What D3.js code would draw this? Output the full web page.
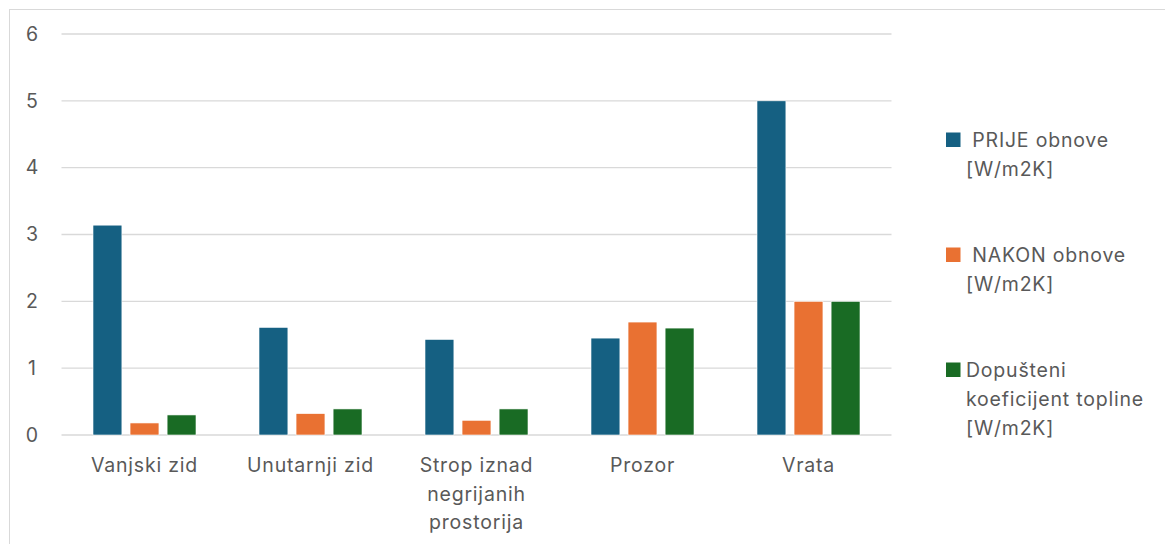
<!DOCTYPE html>
<html>
<head>
<meta charset="utf-8">
<script src="https://cdn.jsdelivr.net/npm/d3@7"></script>
<style>
  html, body { margin: 0; padding: 0; background: #fff; }
  svg { display: block; font-family: Inter, "Open Sans", sans-serif; }
  .lbl { letter-spacing: 0.8px; }
</style>
</head>
<body>
<svg id="chart" width="1165" height="544"></svg>
<script>
// Building elements (multi-line labels split on "\n")
const categories = ["Vanjski zid", "Unutarnji zid", "Strop iznad\nnegrijanih\nprostorija", "Prozor", "Vrata"];

// U-values per series [W/m2K]
const prijeObnove  = [3.14, 1.61, 1.43, 1.45, 5.0];
const nakonObnove  = [0.18, 0.32, 0.22, 1.69, 2.0];
const dopusteni    = [0.30, 0.39, 0.39, 1.60, 2.0];

const seriesNames = [
  [" PRIJE obnove", "[W/m2K]"],
  [" NAKON obnove", "[W/m2K]"],
  ["Dopušteni", "koeficijent topline", "[W/m2K]"]
];
const seriesColors = ["#156082", "#E97132", "#196B24"];
const yTicks = [0, 1, 2, 3, 4, 5, 6];

const series = [prijeObnove, nakonObnove, dopusteni];

const svg = d3.select("#chart");
const textColor = "#595959";
const fontSize = 19.5;

// chart frame
svg.append("rect")
  .attr("x", 9.5).attr("y", 9.5)
  .attr("width", 1200).attr("height", 600)
  .attr("fill", "#fff").attr("stroke", "#d9d9d9").attr("stroke-width", 1);

const plot = { left: 61.5, right: 891.5, top: 34, bottom: 435 };

const x = d3.scaleBand()
  .domain(d3.range(categories.length))
  .range([plot.left, plot.right])
  .paddingInner(0).paddingOuter(0);

const y = d3.scaleLinear().domain([0, 6]).range([plot.bottom, plot.top]);

// inner band for the three bars in a group
const groupWidth = 103;
const xs = d3.scaleBand()
  .domain(d3.range(series.length))
  .range([0, groupWidth])
  .paddingInner(0.22).paddingOuter(0);

// gridlines
svg.append("g")
  .selectAll("line")
  .data(yTicks)
  .join("line")
  .attr("x1", plot.left).attr("x2", plot.right)
  .attr("y1", d => y(d)).attr("y2", d => y(d))
  .attr("stroke", "#d9d9d9").attr("stroke-width", 1.3);

// y-axis labels
const yAxis = d3.axisLeft(y).tickValues(yTicks).tickSize(0).tickPadding(0).tickFormat(d3.format("d"));
const gy = svg.append("g").attr("transform", "translate(32,0)").call(yAxis);
gy.select(".domain").remove();
gy.selectAll("text")
  .attr("fill", textColor)
  .attr("font-size", fontSize)
  .attr("font-family", "Inter, sans-serif")
  .attr("text-anchor", "middle");

// bars
const groups = svg.append("g")
  .selectAll("g")
  .data(categories.map((c, i) => i))
  .join("g")
  .attr("transform", i => `translate(${x(i) + (x.bandwidth() - groupWidth) / 2},0)`);

groups.selectAll("rect")
  .data(i => series.map((s, k) => ({ k, v: s[i] })))
  .join("rect")
  .attr("x", d => xs(d.k))
  .attr("width", xs.bandwidth())
  .attr("y", d => y(d.v))
  .attr("height", d => y(0) - y(d.v))
  .attr("fill", d => seriesColors[d.k])
  .attr("stroke", "#fff").attr("stroke-width", 0.6);

// category labels
const xl = svg.append("g")
  .selectAll("text")
  .data(categories)
  .join("text")
  .attr("class", "lbl")
  .attr("x", (d, i) => x(i) + x.bandwidth() / 2)
  .attr("y", 472)
  .attr("text-anchor", "middle")
  .attr("fill", textColor)
  .attr("font-size", fontSize);
xl.selectAll("tspan")
  .data(d => d.split("\n"))
  .join("tspan")
  .attr("x", function () { return d3.select(this.parentNode).attr("x"); })
  .attr("dy", (d, j) => j === 0 ? 0 : 28.5)
  .text(d => d);

// legend
const legendTop = [139.5, 254.5, 369.5];
const legend = svg.append("g")
  .selectAll("g")
  .data(seriesNames)
  .join("g")
  .attr("transform", (d, i) => `translate(946,${legendTop[i]})`);

legend.append("rect")
  .attr("x", 0).attr("y", -7)
  .attr("width", 14.5).attr("height", 14.5)
  .attr("fill", (d, i) => seriesColors[i]);

legend.append("text")
  .attr("class", "lbl")
  .attr("x", 20).attr("y", 7.3)
  .attr("fill", textColor)
  .attr("font-size", fontSize)
  .attr("xml:space", "preserve")
  .style("white-space", "pre")
  .selectAll("tspan")
  .data(d => d)
  .join("tspan")
  .attr("x", 20)
  .attr("dy", (d, j) => j === 0 ? 0 : 29)
  .text(d => d);
</script>
</body>
</html>
